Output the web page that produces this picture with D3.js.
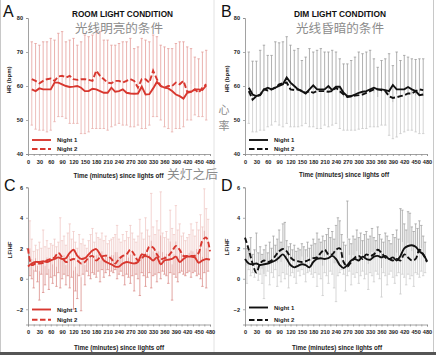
<!DOCTYPE html>
<html><head><meta charset="utf-8">
<script src="https://cdn.jsdelivr.net/npm/d3@7/dist/d3.min.js"></script>
<style>
html,body{margin:0;padding:0;background:#fff;}
svg{display:block;}
text{font-family:"Liberation Sans Narrow","Liberation Sans",Arial,sans-serif;}
.cjk{font-family:"Noto Sans CJK SC","Noto Sans",sans-serif;}
</style></head><body>
<script>
// ---------- DATA ----------
const hrTimes = d3.range(10, 471, 10); // minutes since lights off (47 points)
// Panel A: room light
const roomNight1 = [59,58.5,59.3,59,59,59,61,61,60.5,60,59.7,59.8,60,59.5,58.5,58.5,59.2,59,58.5,58,58,59.5,58.3,58.5,59,58,57.8,57.7,57.8,59.8,57.5,57.6,59.3,61.2,60,59.5,59.3,58.5,57.5,57,56.3,58,58.3,59,59,58.8,60.2];
const roomNight2 = [62,61.5,60.8,61.5,62,62.2,61.5,62.8,63,62.5,63,62,61.8,62,62,61.8,61.5,64.5,63,62,61,60.8,61.5,61.5,61,61.5,62,61.5,59.5,62,62,61,64.5,62,60,59.5,60,60,61,60.5,61.5,58.3,58.3,59,58,59.5,60.5];
const roomUpper = [73,72.5,72,73,73,74,73.5,75.5,76,73,73.5,74,72,73,75,74.5,75,76,76,73.5,73.5,72,72,72.5,73,73,74,71,71.5,74,73.5,73,75,74.5,72,71.5,71,71,72.5,73,73,71.5,71,68.5,68,70,70.5];
const roomLower = [48.5,47.3,47,47,46.5,47,49.5,51,51,50.5,49,49,49,46,46,46.5,47.5,47.5,47.5,47.5,47,48,48.5,49,48.5,48.5,48,48,48.5,47.5,47.5,48.5,51,51,50,48,47.5,46.5,47.5,47.5,48,50,50,51.5,51,51,50];
// Panel B: dim light
const dimNight1 = [59.5,57.5,57,57.5,59,59.5,59,59.5,60,60.5,62.5,61,60,59,58.5,57.8,59,60.2,59,59,59,60,58.8,59.8,59.8,58,57,57,57.5,58,58.3,58.5,59,59.5,59,59,58.8,58.5,60.3,59,59,59,59.7,59,58.5,57.3,57.5];
const dimNight2 = [58.5,56,57,57.3,59,58.7,59,59.5,60.5,60.8,61,59,58.8,59,58.5,58,58.5,58,58.5,58.5,58.5,58.3,58.5,59.5,58.5,57.5,56.8,57,57.2,57.3,57.5,58,58.5,59,59,58.8,58.5,57,56.5,56.7,57,57.3,57.8,57.8,58.5,59,58.8];
const dimUpper = [70,67.3,67.3,70.5,72,69,69,73,72.7,73,74.5,72,70.5,71,67.5,68.5,71,70,70.5,71,70,70,70.5,70,68,66.5,66.5,67.5,68.5,70,69.5,70,70.5,68,65.5,67.5,68,69.5,66,70,67.5,69,68.5,68,67.8,68,68];
const dimLower = [49,46.5,46.5,47,47,48,48.5,49.5,48.5,48,49,48,48,48,48.3,49,48,48,47.5,47.5,48.5,48,48.5,49,47.5,47,47,47,47,47.3,47.5,47.5,48,48,48,48.5,48.5,45.5,44.5,45,46,46.5,47,47,46.5,46,46];

const lfTimes = d3.range(0, 481, 10);   // line points (49)
const lfBarTimes = d3.range(5, 476, 5); // error bar points (95)
// Panel C: room light LF/HF
const roomLF1 = [0.8,1.0,1.1,1.1,1.15,1.1,1.2,1.3,1.4,1.3,1.35,1.7,1.9,1.5,1.3,1.35,1.6,1.85,1.95,1.6,1.2,1.05,0.95,0.8,0.8,1.0,1.1,1.05,1.0,1.1,1.6,1.5,1.4,1.2,1.4,0.95,1.2,1.25,1.3,1.45,1.1,1.3,1.45,1.45,1.4,1.05,1.2,1.3,1.25];
const roomLF2 = [2.0,0.9,1.0,1.0,1.05,1.2,1.3,1.4,1.7,1.4,1.1,1.2,1.3,1.2,1.0,1.1,1.4,1.5,1.2,1.4,1.5,1.5,1.3,1.0,1.3,1.5,1.6,1.9,1.6,1.2,1.35,1.6,2.1,2.05,1.6,1.3,1.35,1.5,1.8,2.15,1.9,1.5,1.5,1.5,1.5,1.7,2.5,2.7,1.8];
const roomLFUpper = [3.8,2.6,1.8,2.2,1.9,2.4,2.0,3.2,2.1,2.5,2.0,2.3,2.2,2.6,2.1,2.4,4.0,2.5,2.8,2.2,3.0,3.6,2.6,3.1,2.4,2.0,2.9,2.3,2.6,2.2,2.0,2.5,2.9,3.3,2.4,3.0,2.7,2.6,3.0,2.5,2.8,2.3,2.5,2.6,2.7,2.9,3.5,2.6,2.4,2.9,2.5,3.1,2.7,3.5,3.0,2.6,2.4,2.8,3.9,3.0,2.6,4.0,3.2,2.8,5.6,3.4,2.9,3.8,3.2,5.7,3.0,2.7,3.1,2.6,4.5,3.3,2.9,4.8,3.2,3.6,2.8,3.0,2.5,2.7,2.9,3.6,3.2,2.8,3.7,3.2,4.2,3.4,5.9,4.6,3.9];
const roomLFLower = [0.2,0.0,-0.6,0.5,-0.2,-1.4,0.3,-0.9,-0.4,0.3,-0.7,0.1,-0.3,0.2,-0.5,0.4,-0.6,0.0,0.3,-0.4,0.2,-0.6,0.1,-2.0,-0.8,-1.3,0.2,-2.1,0.3,-0.4,0.5,0.2,0.0,0.4,0.3,0.1,0.5,-0.2,0.6,0.1,0.4,0.6,0.2,0.5,0.4,0.6,0.0,0.3,0.5,0.2,-0.4,0.3,0.1,-0.3,0.2,-0.8,0.3,0.0,-1.1,0.4,0.2,-0.5,0.1,0.4,-0.6,0.2,0.3,-0.2,0.4,0.0,0.5,0.3,0.2,-0.3,0.4,-1.4,0.3,0.1,-0.2,0.4,0.5,0.3,0.2,0.4,0.5,0.1,0.4,0.5,0.2,0.3,0.0,-0.5,0.4,-0.6,0.5];
// Panel D: dim light LF/HF
const dimLF1 = [1.3,1.0,0.95,1.0,0.9,0.95,1.0,1.1,1.2,1.4,1.6,1.3,0.9,0.75,0.85,0.95,0.9,0.75,1.1,1.3,1.35,1.3,1.35,1.5,1.3,0.9,0.7,0.9,1.2,1.3,1.2,1.45,1.3,1.25,1.45,1.5,1.4,1.5,1.3,1.4,1.2,1.5,2.0,2.15,2.2,2.1,1.8,1.6,1.15];
const dimLF2 = [2.7,1.9,1.0,0.4,1.0,1.2,1.1,1.2,1.5,1.8,1.95,1.8,1.4,1.2,1.15,1.1,1.15,1.25,1.35,1.4,1.7,1.9,1.6,1.6,1.9,2.0,1.1,0.8,1.1,1.4,1.5,1.3,1.6,1.5,1.6,1.9,1.7,1.4,1.3,1.2,1.3,1.2,1.6,1.4,1.2,1.3,1.9,1.6,1.1];
const dimLFUpper = [2.0,1.8,2.7,1.6,1.9,3.0,1.7,2.1,1.6,1.9,2.2,1.7,2.4,2.0,2.8,2.2,2.6,3.2,2.4,3.6,3.7,2.5,2.1,2.3,1.9,2.2,1.8,2.0,1.9,2.3,2.1,1.9,2.4,2.0,2.2,2.6,2.3,3.0,2.6,2.4,2.8,2.5,2.9,3.3,2.7,3.1,2.6,3.5,4.0,3.8,2.9,2.4,2.2,5.1,2.6,2.3,2.8,2.6,3.2,2.7,3.0,2.5,2.9,3.1,2.6,2.8,3.3,2.7,2.5,3.4,2.9,2.6,2.4,3.0,2.8,2.5,2.3,2.9,2.7,3.2,2.6,4.6,4.5,3.6,3.2,4.4,4.3,3.4,3.1,3.6,3.3,3.8,3.5,2.8,2.4];
const dimLFLower = [-0.3,0.6,0.2,0.4,0.1,0.5,-0.1,0.3,-0.3,-1.3,0.2,0.5,-0.4,0.4,0.1,0.6,-0.5,0.2,-0.2,0.4,0.0,0.3,-0.6,0.2,0.4,0.1,-0.3,0.5,0.2,0.6,0.3,-0.2,0.4,0.5,0.3,0.1,0.4,-0.5,0.3,0.0,-1.1,0.4,0.2,-0.3,0.5,0.3,-0.6,-1.5,0.2,0.4,0.6,0.3,-0.8,0.2,0.5,-0.4,0.3,0.1,0.4,-0.3,0.2,0.5,0.0,0.3,-0.7,0.4,0.2,-0.2,0.5,0.3,0.0,-1.2,0.4,0.2,-0.4,0.3,0.5,0.1,-0.3,0.2,0.4,-1.0,0.3,0.1,-0.4,0.3,0.0,0.2,-0.5,0.4,0.3,0.1,0.5,0.2,0.4];

const xTicks = d3.range(0, 481, 15);
const hrTicks = [40, 50, 60, 70, 80];
const lfTicks = [-2, 0, 2, 4, 6];
const seriesNames = ["Night 1", "Night 2"];

// ---------- DRAW ----------
const W = 436, H = 355;
const svg = d3.select("body").append("svg").attr("width", W).attr("height", H);

// frame lines
svg.append("line").attr("x1",0.5).attr("x2",0.5).attr("y1",0).attr("y2",352).attr("stroke","#c8c8c8");
svg.append("line").attr("x1",214).attr("x2",214).attr("y1",0).attr("y2",352).attr("stroke","#e2e2e2");
svg.append("line").attr("x1",433.5).attr("x2",433.5).attr("y1",0).attr("y2",352).attr("stroke","#c8c8c8");
svg.append("rect").attr("x",0).attr("y",352).attr("width",W).attr("height",3).attr("fill","#555");

function panel(cfg) {
  const x = d3.scaleLinear().domain([0, 480]).range([cfg.x0, cfg.x1]);
  const y = d3.scaleLinear().domain(cfg.yDomain).range([cfg.yBot, cfg.yTop]);
  const g = svg.append("g");

  // error bars
  const bars = g.append("g");
  cfg.barTimes.forEach((t, i) => {
    const up = cfg.upper[i], lo = cfg.lower[i];
    const mid = (up + lo) / 2;
    const xp = x(t);
    bars.append("line").attr("x1", xp).attr("x2", xp).attr("y1", y(mid)).attr("y2", y(up))
      .attr("stroke", cfg.upColor).attr("stroke-width", 0.8);
    bars.append("line").attr("x1", xp).attr("x2", xp).attr("y1", y(mid)).attr("y2", y(lo))
      .attr("stroke", cfg.lowColor).attr("stroke-width", 0.8);
    bars.append("line").attr("x1", xp - 1.2).attr("x2", xp + 1.2).attr("y1", y(up)).attr("y2", y(up))
      .attr("stroke", cfg.upColor).attr("stroke-width", 0.8);
    bars.append("line").attr("x1", xp - 1.2).attr("x2", xp + 1.2).attr("y1", y(lo)).attr("y2", y(lo))
      .attr("stroke", cfg.lowColor).attr("stroke-width", 0.8);
  });

  // axes
  const ax = g.append("g").attr("transform", `translate(0,${cfg.yBot})`)
    .call(d3.axisBottom(x).tickValues(xTicks).tickSize(2).tickPadding(4)
      .tickFormat(d => d % 30 === 0 ? d : ""));
  const ay = g.append("g").attr("transform", `translate(${cfg.x0},0)`)
    .call(d3.axisLeft(y).tickValues(cfg.yTicks).tickSize(2).tickPadding(3));
  [ax, ay].forEach(a => {
    a.select(".domain").attr("stroke", "#8a8a8a").attr("stroke-width", 0.8);
    a.selectAll(".tick line").attr("stroke", "#8a8a8a").attr("stroke-width", 0.7);
    a.selectAll(".tick text").attr("fill", "#222").attr("font-size", 5.6)
      .attr("font-weight", "bold").attr("font-family", '"Liberation Sans Narrow","Liberation Sans",Arial,sans-serif');
  });

  // lines
  const line = d3.line().x((d, i) => x(cfg.times[i])).y(d => y(d)).curve(cfg.curve);
  g.append("path").datum(cfg.s2).attr("d", line).attr("fill", "none")
    .attr("stroke", cfg.lineColor).attr("stroke-width", 1.9).attr("stroke-dasharray", "5.5,2.5");
  g.append("path").datum(cfg.s1).attr("d", line).attr("fill", "none")
    .attr("stroke", cfg.lineColor).attr("stroke-width", 1.9);

  // legend
  const lg = g.append("g");
  seriesNames.forEach((n, i) => {
    const ly = cfg.legY[i];
    lg.append("line").attr("x1", cfg.x0 + 4).attr("x2", cfg.x0 + 23).attr("y1", ly).attr("y2", ly)
      .attr("stroke", cfg.lineColor).attr("stroke-width", 1.9)
      .attr("stroke-dasharray", i === 1 ? "5.5,2.5" : null);
    lg.append("text").attr("x", cfg.x0 + 29).attr("y", ly + 2).attr("font-size", 6)
      .attr("font-weight", "bold").attr("fill", "#222").text(n);
  });

  // y label
  g.append("text").attr("transform", `translate(${cfg.yLabX},${cfg.yLabY}) rotate(-90)`)
    .attr("text-anchor", "middle").attr("font-size", 6).attr("font-weight", "bold").attr("fill", "#222")
    .text(cfg.yLabel);
  // x label
  g.append("text").attr("x", cfg.xLabX).attr("y", cfg.xLabY).attr("text-anchor", "middle")
    .attr("font-size", 7).attr("font-weight", "bold").attr("fill", "#222")
    .attr("textLength", 90).attr("lengthAdjust", "spacingAndGlyphs")
    .text("Time (minutes) since lights off");
  // panel letter
  svg.append("text").attr("x", cfg.letX).attr("y", cfg.letY).attr("font-size", 16)
    .attr("font-family", '"Liberation Sans",Arial,sans-serif').attr("fill", "#111").text(cfg.letter);
}

panel({letter:"A", letX:3, letY:17, x0:28, x1:210, yTop:18, yBot:154, yDomain:[40,80], yTicks:hrTicks,
  times:hrTimes, s1:roomNight1, s2:roomNight2, barTimes:hrTimes, upper:roomUpper, lower:roomLower,
  upColor:"#e59e9a", lowColor:"#e9aeab", lineColor:"#d8372f", curve:d3.curveLinear,
  legY:[140,149], yLabel:"HR (bpm)", yLabX:11, yLabY:80, xLabX:118.5, xLabY:177.5});
panel({letter:"B", letX:221, letY:17, x0:245, x1:427, yTop:18, yBot:154, yDomain:[40,80], yTicks:hrTicks,
  times:hrTimes, s1:dimNight1, s2:dimNight2, barTimes:hrTimes, upper:dimUpper, lower:dimLower,
  upColor:"#9c9c9c", lowColor:"#c9c9c9", lineColor:"#111", curve:d3.curveLinear,
  legY:[140,149], yLabel:"HR (bpm)", yLabX:229, yLabY:79, xLabX:344, xLabY:177});
panel({letter:"C", letX:4, letY:191, x0:28, x1:210, yTop:187.3, yBot:324.5, yDomain:[-3,6], yTicks:lfTicks,
  times:lfTimes, s1:roomLF1, s2:roomLF2, barTimes:lfBarTimes, upper:roomLFUpper, lower:roomLFLower,
  upColor:"#f0c9c7", lowColor:"#dc8f8b", lineColor:"#d8372f", curve:d3.curveCatmullRom,
  legY:[309.5,319.8], yLabel:"LF/HF", yLabX:12, yLabY:250, xLabX:119, xLabY:349.5});
panel({letter:"D", letX:221, letY:191, x0:245, x1:427, yTop:187.3, yBot:324.5, yDomain:[-3,6], yTicks:lfTicks,
  times:lfTimes, s1:dimLF1, s2:dimLF2, barTimes:lfBarTimes, upper:dimLFUpper, lower:dimLFLower,
  upColor:"#a3a3a3", lowColor:"#cdcdcd", lineColor:"#111", curve:d3.curveCatmullRom,
  legY:[307.5,320], yLabel:"LF/HF", yLabX:229, yLabY:247, xLabX:337, xLabY:349.5});

// titles
function title(txt, cx, w) {
  svg.append("text").attr("x", cx).attr("y", 16.5).attr("text-anchor", "middle")
    .attr("font-size", 8.5).attr("font-weight", "bold").attr("fill", "#111")
    .attr("textLength", w).attr("lengthAdjust", "spacingAndGlyphs").text(txt);
}
title("ROOM LIGHT CONDITION", 122.5, 101);
title("DIM LIGHT CONDITION", 340, 92);
function cjk(txt, x, y, size, w, anchor) {
  svg.append("text").attr("class", "cjk").attr("x", x).attr("y", y).attr("text-anchor", anchor || "middle")
    .attr("font-size", size).attr("fill", "#8c8c8c")
    .attr("textLength", w).attr("lengthAdjust", "spacingAndGlyphs").text(txt);
}
cjk("光线明亮的条件", 119, 32.5, 12.5, 88);
cjk("光线昏暗的条件", 340, 32.5, 12.5, 88);
cjk("关灯之后", 192.5, 179, 12.5, 51);
// vertical "心率"
svg.append("text").attr("class","cjk").attr("x", 224).attr("y", 114).attr("text-anchor","middle")
  .attr("font-size", 11).attr("fill", "#8c8c8c").text("心");
svg.append("text").attr("class","cjk").attr("x", 224).attr("y", 130).attr("text-anchor","middle")
  .attr("font-size", 11).attr("fill", "#8c8c8c").text("率");
</script>
</body></html>
